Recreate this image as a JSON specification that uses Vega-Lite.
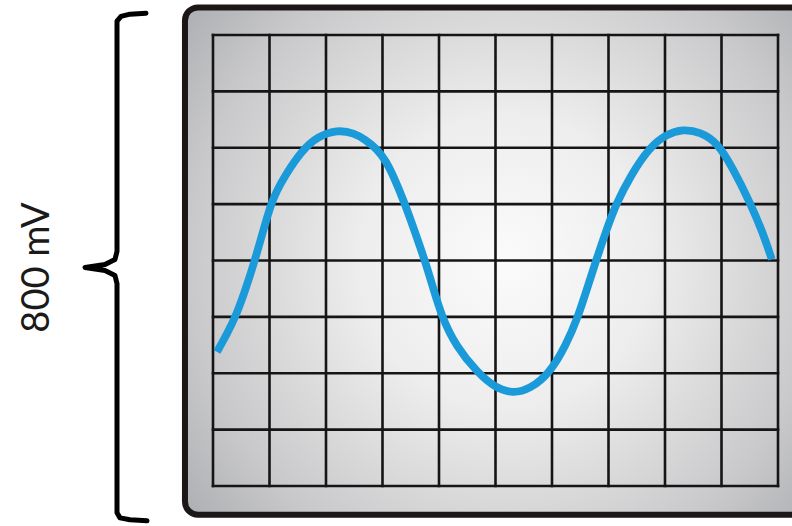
{
  "$schema": "https://vega.github.io/schema/vega-lite/v6.json",
  "width": 565,
  "height": 451,
  "autosize": {"type": "none"},
  "padding": {"left": 213, "top": 35, "right": 14, "bottom": 40},
  "background": "white",
  "config": {"view": {"stroke": null}},
  "datasets": {
    "bezel": [{"x": -0.496, "x2": 11.5, "y": 449, "y2": -451}],
    "gridx": [{"v": 0}, {"v": 1}, {"v": 2}, {"v": 3}, {"v": 4}, {"v": 5}, {"v": 6}, {"v": 7}, {"v": 8}, {"v": 9}, {"v": 10}],
    "gridy": [{"v": -400}, {"v": -300}, {"v": -200}, {"v": -100}, {"v": 0}, {"v": 100}, {"v": 200}, {"v": 300}, {"v": 400}],
    "signal": [
      {"t": 0.07, "mv": -162}, {"t": 0.25, "mv": -130}, {"t": 0.42, "mv": -95}, {"t": 0.58, "mv": -50},
      {"t": 0.74, "mv": 0}, {"t": 0.88, "mv": 50}, {"t": 1.02, "mv": 98}, {"t": 1.12, "mv": 122},
      {"t": 1.27, "mv": 150}, {"t": 1.58, "mv": 196}, {"t": 1.85, "mv": 220}, {"t": 2.2, "mv": 232},
      {"t": 2.5, "mv": 226}, {"t": 2.7, "mv": 214}, {"t": 2.9, "mv": 198}, {"t": 3.05, "mv": 178},
      {"t": 3.18, "mv": 153}, {"t": 3.38, "mv": 105}, {"t": 3.57, "mv": 52}, {"t": 3.75, "mv": 0},
      {"t": 3.9, "mv": -50}, {"t": 4.05, "mv": -100}, {"t": 4.3, "mv": -152}, {"t": 4.69, "mv": -200},
      {"t": 5.0, "mv": -226}, {"t": 5.31, "mv": -236}, {"t": 5.61, "mv": -228}, {"t": 5.96, "mv": -200},
      {"t": 6.25, "mv": -150}, {"t": 6.46, "mv": -100}, {"t": 6.62, "mv": -50}, {"t": 6.78, "mv": 0},
      {"t": 6.95, "mv": 50}, {"t": 7.13, "mv": 100}, {"t": 7.4, "mv": 152}, {"t": 7.72, "mv": 200},
      {"t": 8.02, "mv": 224}, {"t": 8.32, "mv": 233}, {"t": 8.62, "mv": 228}, {"t": 8.92, "mv": 210},
      {"t": 9.2, "mv": 164}, {"t": 9.5, "mv": 104}, {"t": 9.73, "mv": 50}, {"t": 9.89, "mv": 2}
    ],
    "brace": [
      {"i": 1, "bx": -1.186, "by": 438.7}, {"i": 2, "bx": -1.469, "by": 437}, {"i": 3, "bx": -1.628, "by": 433},
      {"i": 4, "bx": -1.699, "by": 424.5}, {"i": 5, "bx": -1.699, "by": 16}, {"i": 6, "bx": -1.735, "by": 1.8},
      {"i": 7, "bx": -1.912, "by": -7.1}, {"i": 8, "bx": -2.265, "by": -12.4}, {"i": 9, "bx": -1.912, "by": -17.8},
      {"i": 10, "bx": -1.735, "by": -26.6}, {"i": 11, "bx": -1.699, "by": -40.9}, {"i": 12, "bx": -1.699, "by": -447.6},
      {"i": 13, "bx": -1.646, "by": -456.5}, {"i": 14, "bx": -1.469, "by": -460}, {"i": 15, "bx": -1.168, "by": -461.8}
    ],
    "label": [{"lx": -3.1, "ly": -12.4, "text": "800 mV"}]
  },
  "layer": [
    {
      "data": {"name": "bezel"},
      "mark": {
        "type": "rect", "clip": false, "cornerRadius": 13, "stroke": "#1c1616", "strokeWidth": 6,
        "fill": {
          "gradient": "radial", "x1": 0.472, "y1": 0.5, "r1": 0, "x2": 0.472, "y2": 0.5, "r2": 0.62,
          "stops": [
            {"offset": 0, "color": "#fbfbfb"},
            {"offset": 0.35, "color": "#ededed"},
            {"offset": 0.75, "color": "#c9c9cb"},
            {"offset": 1, "color": "#a9abae"}
          ]
        }
      },
      "encoding": {
        "x": {"field": "x", "type": "quantitative", "scale": {"domain": [0, 10], "nice": false, "zero": false}, "axis": null},
        "x2": {"field": "x2"},
        "y": {"field": "y", "type": "quantitative", "scale": {"domain": [-400, 400], "nice": false, "zero": false}, "axis": null},
        "y2": {"field": "y2"}
      }
    },
    {
      "data": {"name": "gridx"},
      "mark": {"type": "rule", "clip": false, "color": "#161414", "strokeWidth": 2.6, "strokeCap": "square"},
      "encoding": {"x": {"field": "v", "type": "quantitative", "axis": null}}
    },
    {
      "data": {"name": "gridy"},
      "mark": {"type": "rule", "clip": false, "color": "#161414", "strokeWidth": 2.6, "strokeCap": "square"},
      "encoding": {"y": {"field": "v", "type": "quantitative", "axis": null}}
    },
    {
      "data": {"name": "signal"},
      "mark": {"type": "line", "clip": false, "color": "#1a9ad9", "strokeWidth": 7.8, "interpolate": "basis", "strokeCap": "butt"},
      "encoding": {
        "x": {"field": "t", "type": "quantitative", "axis": null},
        "y": {"field": "mv", "type": "quantitative", "axis": null}
      }
    },
    {
      "data": {"name": "brace"},
      "mark": {"type": "line", "clip": false, "color": "#000000", "strokeWidth": 5, "interpolate": "linear", "strokeJoin": "round", "strokeCap": "round"},
      "encoding": {
        "x": {"field": "bx", "type": "quantitative", "axis": null},
        "y": {"field": "by", "type": "quantitative", "axis": null},
        "order": {"field": "i", "type": "quantitative"}
      }
    },
    {
      "data": {"name": "label"},
      "mark": {"type": "text", "clip": false, "angle": 270, "font": "Lato", "fontSize": 38, "color": "#1a1a1a", "align": "center", "baseline": "middle"},
      "encoding": {
        "x": {"field": "lx", "type": "quantitative", "axis": null},
        "y": {"field": "ly", "type": "quantitative", "axis": null},
        "text": {"field": "text", "type": "nominal"}
      }
    }
  ]
}
